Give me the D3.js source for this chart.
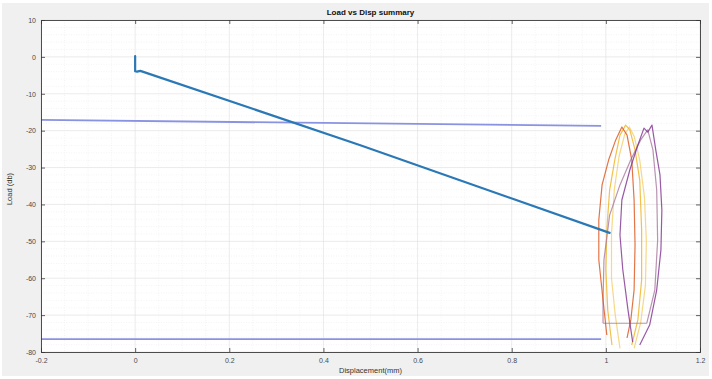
<!DOCTYPE html>
<html>
<head>
<meta charset="utf-8">
<script src="https://cdn.jsdelivr.net/npm/d3@7"></script>
<style>
  html, body { margin: 0; padding: 0; background: #ffffff; }
  svg { display: block; font-family: "Liberation Sans", Arial, sans-serif; }
</style>
</head>
<body>
<svg id="chart" width="712" height="379"></svg>
<script>
// Axis ticks
const xTicks = [-0.2, 0, 0.2, 0.4, 0.6, 0.8, 1, 1.2];
const yTicks = [10, 0, -10, -20, -30, -40, -50, -60, -70, -80];

// Monotonic loading path (displacement mm, load dB)
const rampX = [0, 0, 0.004, 0.011, 0.48, 1.008];
const rampY = [0.2, -3.9, -4.0, -3.8, -24.0, -47.7];

// Reference levels
const upperX = [-0.2, 0.99];
const upperY = [-17.1, -18.7];
const lowerX = [-0.2, 0.99];
const lowerY = [-76.5, -76.5];

// Cyclic loops near 1 mm
const loopOrangeX = [1.002, 0.994, 0.985, 0.985, 0.992, 1.006, 1.021, 1.034, 1.045, 1.055, 1.060, 1.062, 1.060, 1.053, 1.045];
const loopOrangeY = [-75.4, -65.9, -55.0, -44.2, -34.7, -27.9, -22.5, -19.0, -21.2, -27.9, -38.8, -51.0, -63.2, -71.3, -76.2];

const loopYellowX = [1.013, 1.004, 1.000, 1.002, 1.008, 1.019, 1.030, 1.042, 1.051, 1.062, 1.072, 1.076, 1.076, 1.068, 1.055];
const loopYellowY = [-78.1, -68.6, -57.7, -46.9, -36.1, -27.9, -21.2, -18.5, -19.8, -25.2, -33.4, -46.9, -60.5, -71.3, -78.1];

const loopPaleX = [1.030, 1.020, 1.012, 1.012, 1.018, 1.028, 1.040, 1.050, 1.060, 1.072, 1.082, 1.086, 1.084, 1.074, 1.060];
const loopPaleY = [-79.0, -70.0, -60.0, -48.0, -36.0, -27.0, -21.0, -19.0, -21.5, -28.0, -38.0, -50.0, -62.0, -72.0, -79.0];

const loopPurpleX = [1.057, 1.047, 1.036, 1.030, 1.034, 1.051, 1.068, 1.081, 1.089, 1.098, 1.106, 1.115, 1.119, 1.117, 1.108, 1.093, 1.072];
const loopPurpleY = [-77.3, -68.6, -57.7, -48.3, -38.8, -30.6, -23.9, -19.3, -20.4, -18.5, -25.2, -32.0, -41.5, -52.3, -63.2, -72.7, -78.1];

const loopMauveX = [0.994, 1.087, 1.104, 1.110, 1.108, 1.100, 1.089, 1.074, 1.053, 1.030, 1.008, 0.996, 0.994, 0.994];
const loopMauveY = [-72.2, -72.2, -63.2, -49.7, -36.1, -25.2, -19.8, -22.5, -27.9, -34.7, -42.9, -55.0, -65.9, -72.2];

const loops = [
  { xs: loopPaleX, ys: loopPaleY, color: "#F2CE6A" },
  { xs: loopYellowX, ys: loopYellowY, color: "#EDB120" },
  { xs: loopMauveX, ys: loopMauveY, color: "#A8789E" },
  { xs: loopOrangeX, ys: loopOrangeY, color: "#D95319" },
  { xs: loopPurpleX, ys: loopPurpleY, color: "#7E2F8E" }
];

const svg = d3.select("#chart");
const W = 712, H = 379;
const m = { left: 41, right: 12, top: 20, bottom: 27 };

// Figure background
svg.append("rect").attr("x", 2).attr("y", 3).attr("width", W - 5).attr("height", H - 6)
  .attr("fill", "#f0f0f0");

const x = d3.scaleLinear().domain([-0.2, 1.2]).range([m.left, W - m.right]);
const y = d3.scaleLinear().domain([-80, 10]).range([H - m.bottom, m.top]);

const x0 = x.range()[0], x1 = x.range()[1], y0 = y.range()[1], y1 = y.range()[0];

// Axes area
svg.append("rect").attr("x", x0).attr("y", y0).attr("width", x1 - x0).attr("height", y1 - y0)
  .attr("fill", "#ffffff");

svg.append("defs").append("clipPath").attr("id", "plotClip")
  .append("rect").attr("x", x0).attr("y", y0).attr("width", x1 - x0).attr("height", y1 - y0);

// Minor grid
const xMinor = d3.range(-0.2, 1.2001, 0.05).filter(v => Math.abs(Math.round(v / 0.2) * 0.2 - v) > 1e-6);
const yMinor = d3.range(-80, 10.001, 2).filter(v => v % 10 !== 0);
const grid = svg.append("g");
grid.selectAll(".xm").data(xMinor).join("line")
  .attr("x1", d => x(d)).attr("x2", d => x(d)).attr("y1", y0).attr("y2", y1)
  .attr("stroke", "#ececec").attr("stroke-width", 0.6).attr("stroke-dasharray", "1,1.5");
grid.selectAll(".ym").data(yMinor).join("line")
  .attr("y1", d => y(d)).attr("y2", d => y(d)).attr("x1", x0).attr("x2", x1)
  .attr("stroke", "#ececec").attr("stroke-width", 0.6).attr("stroke-dasharray", "1,1.5");
// Major grid
grid.selectAll(".xg").data(xTicks).join("line")
  .attr("x1", d => x(d)).attr("x2", d => x(d)).attr("y1", y0).attr("y2", y1)
  .attr("stroke", "#e2e2e2").attr("stroke-width", 0.7);
grid.selectAll(".yg").data(yTicks).join("line")
  .attr("y1", d => y(d)).attr("y2", d => y(d)).attr("x1", x0).attr("x2", x1)
  .attr("stroke", "#e2e2e2").attr("stroke-width", 0.7);

const plot = svg.append("g").attr("clip-path", "url(#plotClip)");
const line = d3.line().x(d => x(d[0])).y(d => y(d[1]));
const zip = (xs, ys) => xs.map((v, i) => [v, ys[i]]);

// Reference levels
plot.append("path").datum(zip(upperX, upperY)).attr("d", line)
  .attr("fill", "none").attr("stroke", "#8a92e2").attr("stroke-width", 1.8);
plot.append("path").datum(zip(lowerX, lowerY)).attr("d", line)
  .attr("fill", "none").attr("stroke", "#8a92e2").attr("stroke-width", 1.8);

// Loops
loops.forEach(l => {
  plot.append("path").datum(zip(l.xs, l.ys)).attr("d", line)
    .attr("fill", "none").attr("stroke", l.color).attr("stroke-width", 1.2)
    .attr("stroke-opacity", 0.8).attr("stroke-linejoin", "round");
});

// Loading ramp
plot.append("path").datum(zip(rampX, rampY)).attr("d", line)
  .attr("fill", "none").attr("stroke", "#2a78b6").attr("stroke-width", 2.2)
  .attr("stroke-linejoin", "round").attr("stroke-linecap", "round");

// Axes box and ticks (inward, all four sides)
const axisColor = "#3a3a3a";
const fmt = d => (d === 0 ? "0" : String(d));
const xb = svg.append("g").attr("transform", `translate(0,${y1})`)
  .call(d3.axisBottom(x).tickValues(xTicks).tickSize(-4).tickPadding(6).tickFormat(fmt));
const xt = svg.append("g").attr("transform", `translate(0,${y0})`)
  .call(d3.axisTop(x).tickValues(xTicks).tickSize(-4).tickFormat(""));
const yl = svg.append("g").attr("transform", `translate(${x0},0)`)
  .call(d3.axisLeft(y).tickValues(yTicks).tickSize(-4).tickPadding(5).tickFormat(fmt));
const yr = svg.append("g").attr("transform", `translate(${x1},0)`)
  .call(d3.axisRight(y).tickValues(yTicks).tickSize(-4).tickFormat(""));
[xb, xt, yl, yr].forEach(g => {
  g.select(".domain").attr("stroke", axisColor).attr("stroke-width", 0.9);
  g.selectAll(".tick line").attr("stroke", axisColor).attr("stroke-width", 0.8);
  g.selectAll(".tick text").attr("fill", "#4a4a4a").attr("font-size", 7);
});

// Title and labels
svg.append("text").attr("x", (x0 + x1) / 2).attr("y", 15).attr("text-anchor", "middle")
  .attr("font-size", 8).attr("font-weight", "bold").attr("fill", "#111")
  .text("Load vs Disp summary");
svg.append("text").attr("x", (x0 + x1) / 2).attr("y", 373).attr("text-anchor", "middle")
  .attr("font-size", 7.5).attr("fill", "#333").text("Displacement(mm)");
svg.append("text").attr("transform", `translate(12,${(y0 + y1) / 2 + 3}) rotate(-90)`)
  .attr("text-anchor", "middle").attr("font-size", 7.5).attr("fill", "#333").text("Load (db)");
</script>
</body>
</html>
